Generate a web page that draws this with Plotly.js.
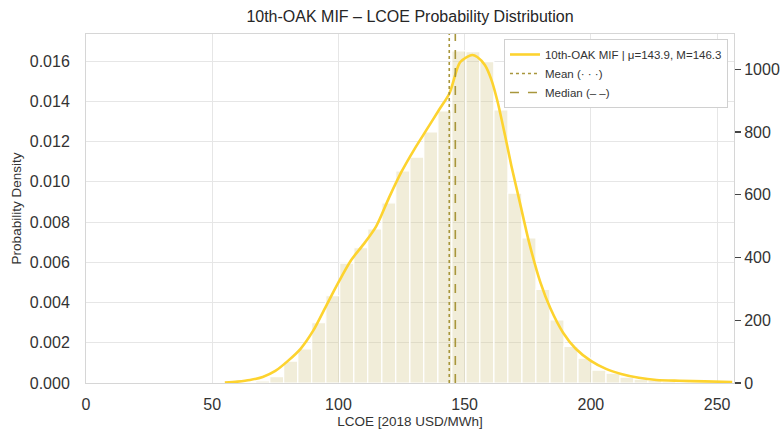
<!DOCTYPE html>
<html>
<head>
<meta charset="utf-8">
<script src="https://cdn.plot.ly/plotly-3.0.1.min.js"></script>
<style>html,body{margin:0;padding:0;background:#fff;}#chart{width:784px;height:432px;}</style>
</head>
<body>
<div id="chart"></div>
<script>
// Histogram bins (left edges, LCOE) and counts (right axis)
const binLeftEdges = [61.7, 67.2, 72.8, 78.3, 83.9, 89.4, 95.0, 100.5, 106.1, 111.6, 117.2, 122.7, 128.3, 133.8, 139.4, 144.9, 150.5, 156.0, 161.6, 167.1, 172.7, 178.2, 183.8, 189.3, 194.9, 200.4, 206.0, 211.5, 217.1, 222.6, 228.2, 233.7, 239.3, 244.8, 250.4];
const binWidth = 5.55;
const binCounts = [2, 7, 20, 70, 109, 192, 278, 382, 431, 491, 574, 676, 720, 800, 867, 1058, 1056, 1024, 870, 605, 462, 298, 201, 117, 79, 41, 31, 19, 12, 8, 5, 4, 3, 2, 1];

// KDE curve (probability density, left axis)
const kdeX = [55, 60, 65, 70, 75, 80, 85, 90, 95, 100, 105, 110, 115, 120, 125, 130, 135, 140, 144, 148, 151, 153, 155, 158, 160.5, 163, 166, 168.5, 172, 175.5, 180, 184, 189, 194, 200, 206, 212, 219, 226, 235, 245, 256];
const kdeY = [0.00002, 0.00007, 0.00015, 0.0003, 0.0006, 0.0011, 0.0017, 0.0026, 0.0038, 0.0050, 0.0061, 0.0069, 0.0078, 0.0092, 0.0105, 0.0116, 0.0126, 0.0136, 0.0144, 0.0159, 0.0162, 0.0163, 0.0162, 0.0158, 0.0151, 0.0140, 0.0123, 0.0108, 0.0089, 0.0070, 0.0050, 0.0037, 0.0025, 0.0017, 0.0011, 0.0007, 0.00045, 0.00026, 0.00015, 0.00011, 0.00008, 0.00005];

const meanValue = 143.9;
const medianValue = 146.3;
const seriesName = "10th-OAK MIF | μ=143.9, M=146.3";

const xRange = [0, 256.7];
const densityRange = [0, 0.017342];
const countRange = [0, 1112];

const densityTicks = [0, 0.002, 0.004, 0.006, 0.008, 0.010, 0.012, 0.014, 0.016];
const countTicks = [0, 200, 400, 600, 800, 1000];
const xTicks = [0, 50, 100, 150, 200, 250];

const FONT = "Liberation Sans, Arial, Helvetica, sans-serif";
const TXT = "#333333";
const GRID = "#e6e6e6";
const FRAME = "#d6d6d6";
const GOLD = "#FDD32F";
const OLIVE = "#A8963C";

const traces = [
  {
    type: "bar",
    x: binLeftEdges,
    y: binCounts,
    width: binWidth,
    offset: 0,
    xaxis: "x",
    yaxis: "y",
    marker: { color: "rgba(214,200,140,0.33)", line: { color: "#ffffff", width: 1.2 } },
    showlegend: false,
    hoverinfo: "skip"
  },
  {
    type: "scatter",
    mode: "lines",
    x: kdeX,
    y: kdeY,
    xaxis: "x",
    yaxis: "y2",
    name: seriesName,
    line: { color: GOLD, width: 2.6, shape: "spline", smoothing: 0.8 }
  },
  {
    type: "scatter",
    mode: "lines",
    x: [meanValue, meanValue],
    y: densityRange,
    xaxis: "x",
    yaxis: "y2",
    name: "Mean (· · ·)",
    line: { color: OLIVE, width: 1.6, dash: "dot" }
  },
  {
    type: "scatter",
    mode: "lines",
    x: [medianValue, medianValue],
    y: densityRange,
    xaxis: "x",
    yaxis: "y2",
    name: "Median (– –)",
    line: { color: OLIVE, width: 1.6, dash: "dash" }
  }
];

const layout = {
  width: 784,
  height: 432,
  margin: { l: 86, r: 50, t: 34, b: 49, pad: 0 },
  paper_bgcolor: "#ffffff",
  plot_bgcolor: "#ffffff",
  font: { family: FONT, color: TXT },
  title: {
    text: "10th-OAK MIF – LCOE Probability Distribution",
    x: 0.5, xref: "paper", xanchor: "center",
    y: 0.962, yref: "container", yanchor: "middle",
    font: { size: 16, color: "#262626", family: FONT }
  },
  bargap: 0,
  xaxis: {
    range: xRange,
    tickvals: xTicks,
    showgrid: true, gridcolor: GRID, gridwidth: 1,
    zeroline: false,
    showline: true, linecolor: FRAME, linewidth: 1, mirror: true,
    ticks: "outside", ticklen: 7, tickcolor: "rgba(0,0,0,0)",
    tickfont: { size: 16, color: TXT },
    title: { text: "LCOE [2018 USD/MWh]", font: { size: 13.5, color: TXT }, standoff: 4 }
  },
  yaxis: {
    range: countRange,
    side: "right",
    tickvals: countTicks,
    showgrid: false,
    zeroline: false,
    showline: false,
    ticks: "outside", ticklen: 6, tickwidth: 1.2, tickcolor: "#444",
    tickfont: { size: 16, color: TXT }
  },
  yaxis2: {
    range: densityRange,
    overlaying: "y",
    side: "left",
    tickvals: densityTicks,
    tickformat: ".3f",
    showgrid: true, gridcolor: GRID, gridwidth: 1,
    zeroline: false,
    showline: true, linecolor: FRAME, linewidth: 1, mirror: true,
    ticks: "outside", ticklen: 12, tickcolor: "rgba(0,0,0,0)",
    tickfont: { size: 16, color: TXT },
    title: { text: "Probability Density", font: { size: 13.5, color: TXT }, standoff: 5 }
  },
  legend: {
    x: 0.9907, y: 0.9857, xanchor: "right", yanchor: "top",
    bgcolor: "#ffffff", bordercolor: "#d0d0d0", borderwidth: 1,
    font: { size: 11.5, color: TXT, family: FONT },
    tracegroupgap: 0
  },
  showlegend: true
};

Plotly.newPlot("chart", traces, layout, { displayModeBar: false, staticPlot: true });
</script>
</body>
</html>
